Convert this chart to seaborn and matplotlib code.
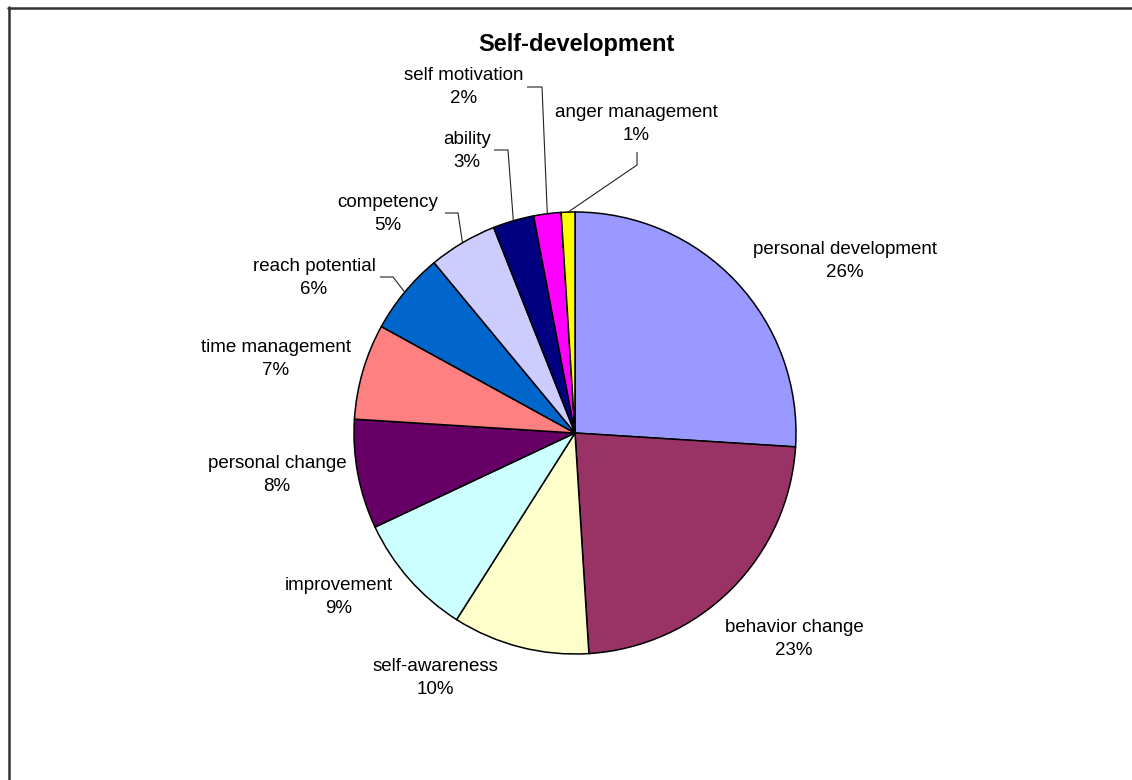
import numpy as np
import matplotlib
matplotlib.use("Agg")
import matplotlib.pyplot as plt
from matplotlib.lines import Line2D
import seaborn as sns

# Topic shares in the "Self-development" group (percent)
categories = ["personal development", "behavior change", "self-awareness",
              "improvement", "personal change", "time management",
              "reach potential", "competency", "ability",
              "self motivation", "anger management"]
shares = [26, 23, 10, 9, 8, 7, 6, 5, 3, 2, 1]
title = "Self-development"

# Classic spreadsheet palette, one colour per slice
slice_colors = ["#9999FF", "#993366", "#FFFFCC", "#CCFFFF", "#660066",
                "#FF8080", "#0066CC", "#CCCCFF", "#000080", "#FF00FF",
                "#FFFF00"]

# Layout (figure pixels, y measured from the top edge)
W, H = 1132, 780
pie_center = (575, 433)
pie_radius = 221
label_centers = [(845, 261), (794, 639), (435, 678), (339, 597),
                 (277, 475), (276, 359), (314, 278), (388, 214),
                 (467, 151), (464, 87), (636, 124)]
# Leader lines: start point and elbow, the end lies on the slice's rim
leaders = {
    "reach potential": [(380, 277), (393, 277)],
    "competency": [(445, 213), (458, 213)],
    "ability": [(494, 150), (508, 150)],
    "self motivation": [(527, 87), (542, 87)],
    "anger management": [(637, 152), (637, 165)],
}

sns.set_theme(style="white")
plt.rcParams["font.family"] = ["Liberation Sans", "DejaVu Sans"]

fig = plt.figure(figsize=(W / 100, H / 100), dpi=100)
fig.patch.set_facecolor("white")
ax = fig.add_axes([0, 0, 1, 1])


def to_data(p):
    return (p[0], H - p[1])


cx, cy = to_data(pie_center)
wedges, _ = ax.pie(shares, colors=slice_colors, startangle=90,
                   counterclock=False, center=(cx, cy), radius=pie_radius,
                   wedgeprops=dict(edgecolor="black", linewidth=1.1))
ax.set_xlim(0, W)
ax.set_ylim(0, H)
ax.set_aspect("equal")
ax.axis("off")

total = sum(shares)
for name, share, wedge, pos in zip(categories, shares, wedges, label_centers):
    x, y = to_data(pos)
    ax.text(x, y, f"{name}\n{round(100 * share / total)}%", ha="center",
            va="center", multialignment="center", fontsize=13.5,
            linespacing=1.4, color="black")
    if name in leaders:
        mid = np.deg2rad((wedge.theta1 + wedge.theta2) / 2)
        end = (cx + pie_radius * np.cos(mid), cy + pie_radius * np.sin(mid))
        pts = [to_data(p) for p in leaders[name]] + [end]
        xs, ys = zip(*pts)
        ax.plot(xs, ys, color="#222222", linewidth=0.8,
                solid_capstyle="butt")

ax.text(576, H - 45, title, ha="center", va="center", fontsize=17,
        fontweight="bold", color="black")

# Chart area frame (left and top edges)
fig.add_artist(Line2D([9 / W, 9 / W], [0, 1 - 7 / H], color="#333333",
                      linewidth=1.8, transform=fig.transFigure))
fig.add_artist(Line2D([8 / W, 1], [1 - 7.5 / H, 1 - 7.5 / H],
                      color="#333333", linewidth=1.8,
                      transform=fig.transFigure))

fig.savefig("out.png", dpi=100, facecolor="white")
